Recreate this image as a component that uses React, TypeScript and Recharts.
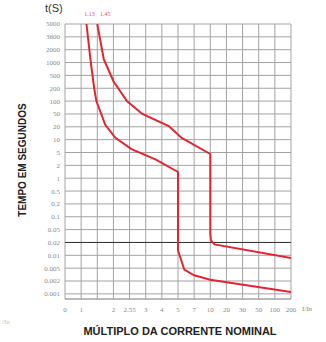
import { LineChart, Line, XAxis, YAxis, CartesianGrid, ReferenceLine } from 'recharts'

// grid ticks of the chart (the grid is evenly spaced per tick, not a true log scale)
const X_VALUES = [0, 1, 1.45, 2, 2.55, 3, 4, 5, 7, 10, 20, 30, 50, 100, 200]
const X_LABELS = ['0', '1', '', '2', '2.55', '3', '4', '5', '7', '10', '20', '30', '50', '100', '200']
const Y_VALUES = [5000, 3600, 2000, 1000, 500, 200, 100, 50, 20, 10, 5, 2, 1, 0.5, 0.2, 0.1, 0.05, 0.02, 0.01, 0.005, 0.002, 0.001]
const Y_LABELS = ['5000', '3600', '2000', '1000', '500', '200', '100', '50', '20', '10', '5', '2', '1', '0.5', '0.2', '0.1', '0.05', '0.02', '0.01', '0.005', '0.002', '0.001']

// 1.13 In curve (multiple of In, seconds)
const LOWER_I = [1.13, 1.25, 1.35, 1.42, 1.7, 2.06, 2.6, 3.6, 5, 5, 5.7, 7, 10, 200]
const LOWER_T = [5000, 1000, 200, 100, 23, 11, 6, 3, 1.4, 0.013, 0.0045, 0.003, 0.0022, 0.0011]

// 1.45 In curve
const UPPER_I = [1.45, 1.65, 2, 2.45, 2.9, 4.4, 5.4, 10, 10, 10.3, 12, 200]
const UPPER_T = [5000, 1200, 330, 100, 50, 21, 11, 4.5, 0.037, 0.023, 0.018, 0.0086]

const Y_MAX = Y_VALUES.length - 1 + 0.4
const RED = '#e2252e'
const GRID = '#a3a3a3'

// position of a value between the grid ticks (log interpolation inside a cell)
function xPos(v: number): number {
  for (let i = 0; i < X_VALUES.length - 1; i++) {
    const a = X_VALUES[i]
    const b = X_VALUES[i + 1]
    if (v >= a && v <= b) {
      if (a === 0) return i + (v - a) / (b - a)
      return i + Math.log(v / a) / Math.log(b / a)
    }
  }
  return X_VALUES.length - 1
}

function yPos(t: number): number {
  for (let i = 0; i < Y_VALUES.length - 1; i++) {
    const a = Y_VALUES[i]
    const b = Y_VALUES[i + 1]
    if (t <= a && t >= b) return i + Math.log(a / t) / Math.log(a / b)
  }
  return t > Y_VALUES[0] ? 0 : Y_VALUES.length - 1
}

const toPoints = (xs: number[], ts: number[]) => xs.map((v, i) => ({ x: xPos(v), y: yPos(ts[i]) }))

const lowerData = toPoints(LOWER_I, LOWER_T)
const upperData = toPoints(UPPER_I, UPPER_T)

// curve name written above the top end of each curve
const topLabel = (text: string, dx: number) => (props: any) => {
  if (props.index !== 0) return <g />
  return (
    <text x={props.x + dx} y={props.y - 8} textAnchor="middle" fontSize={6} fill="#d9534f" fontFamily="Liberation Serif, serif">
      {text}
    </text>
  )
}

const tickStyle = { fontSize: 7, fill: '#8a8a8a', fontFamily: 'Liberation Serif, serif' }

export default function App() {
  return (
    <div style={{ position: 'absolute', left: 0, top: 0, width: 326, height: 342, background: '#fff' }}>
      <div style={{ position: 'absolute', left: 45, top: 2, fontSize: 11, color: '#333', fontFamily: 'Liberation Sans, Arial, sans-serif' }}>
        t(S)
      </div>
      <div
        style={{
          position: 'absolute',
          left: 22,
          top: 160,
          transform: 'translate(-50%, -50%) rotate(-90deg)',
          whiteSpace: 'nowrap',
          fontSize: 10,
          fontWeight: 'bold',
          color: '#222',
          fontFamily: 'Liberation Sans, Arial, sans-serif',
        }}
      >
        TEMPO EM SEGUNDOS
      </div>
      <LineChart width={326} height={342} data={lowerData} margin={{ top: 24, right: 35, bottom: 0, left: 0 }}>
        <CartesianGrid stroke={GRID} strokeWidth={1} />
        <XAxis
          type="number"
          dataKey="x"
          domain={[0, X_VALUES.length - 1]}
          ticks={X_VALUES.map((_, i) => i)}
          tickFormatter={(i) => X_LABELS[i] ?? ''}
          interval={0}
          tick={tickStyle}
          tickLine={false}
          axisLine={false}
          tickSize={0}
          tickMargin={8}
          height={43}
          allowDataOverflow
        />
        <YAxis
          type="number"
          dataKey="y"
          reversed
          domain={[0, Y_MAX]}
          ticks={Y_VALUES.map((_, i) => i)}
          tickFormatter={(i) => Y_LABELS[i] ?? ''}
          interval={0}
          tick={tickStyle}
          tickLine={false}
          axisLine={false}
          tickSize={0}
          tickMargin={5}
          width={65}
          allowDataOverflow
        />
        <ReferenceLine y={Y_VALUES.indexOf(0.02)} stroke="#333" strokeWidth={1} />
        <ReferenceLine y={Y_MAX} stroke={GRID} strokeWidth={1} />
        <Line
          data={lowerData}
          dataKey="y"
          type="linear"
          stroke={RED}
          strokeWidth={2}
          dot={false}
          isAnimationActive={false}
          label={topLabel('1.13', 3)}
        />
        <Line
          data={upperData}
          dataKey="y"
          type="linear"
          stroke={RED}
          strokeWidth={2}
          dot={false}
          isAnimationActive={false}
          label={topLabel('1.45', 8)}
        />
      </LineChart>
      <div style={{ position: 'absolute', left: 302, top: 305, fontSize: 7, color: '#8a8a8a', fontFamily: 'Liberation Serif, serif' }}>
        I/In
      </div>
      <div style={{ position: 'absolute', left: 2, top: 318, fontSize: 7, color: '#c0c0c0', fontFamily: 'Liberation Serif, serif' }}>
        /In
      </div>
      <div
        style={{
          position: 'absolute',
          left: 180,
          top: 331,
          transform: 'translate(-50%, -50%)',
          whiteSpace: 'nowrap',
          fontSize: 11,
          fontWeight: 'bold',
          color: '#222',
          fontFamily: 'Liberation Sans, Arial, sans-serif',
        }}
      >
        MÚLTIPLO DA CORRENTE NOMINAL
      </div>
    </div>
  )
}
